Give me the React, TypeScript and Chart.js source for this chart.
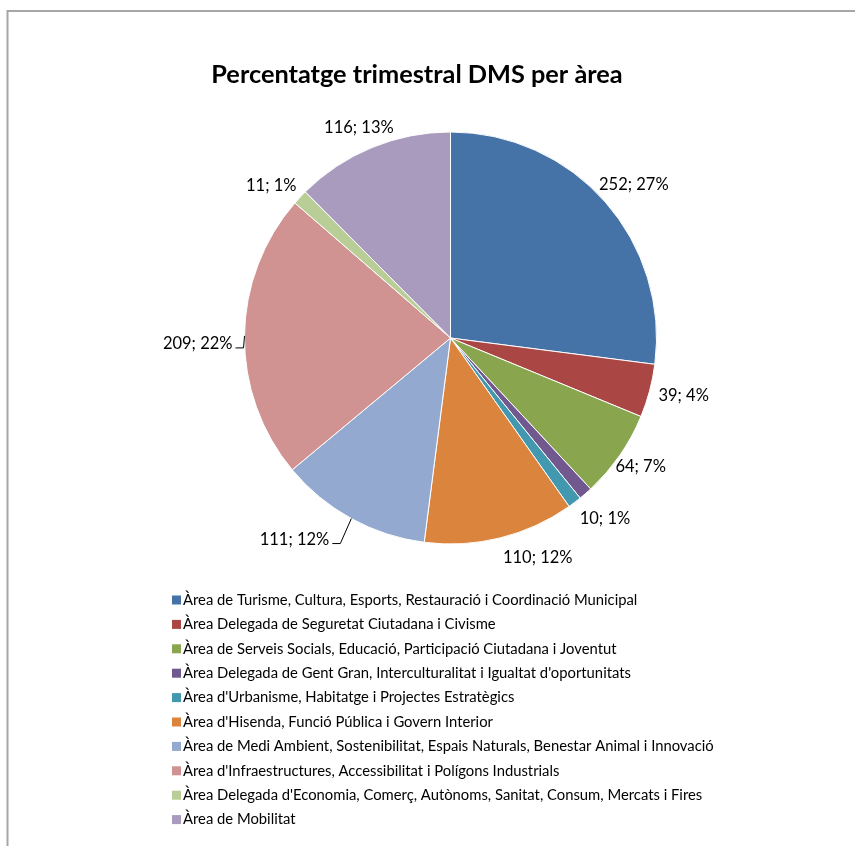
import React, { useEffect, useRef } from "react";
import { Chart, registerables } from "chart.js";

Chart.register(...registerables);

const chartTitle = "Percentatge trimestral DMS per àrea";

const categories = [
  "Àrea de Turisme, Cultura, Esports, Restauració i Coordinació Municipal",
  "Àrea Delegada de Seguretat Ciutadana i Civisme",
  "Àrea de Serveis Socials, Educació, Participació Ciutadana i Joventut",
  "Àrea Delegada de Gent Gran, Interculturalitat i Igualtat d'oportunitats",
  "Àrea d'Urbanisme, Habitatge i Projectes Estratègics",
  "Àrea d'Hisenda, Funció Pública i Govern Interior",
  "Àrea de Medi Ambient, Sostenibilitat, Espais Naturals, Benestar Animal i Innovació",
  "Àrea d'Infraestructures, Accessibilitat i Polígons Industrials",
  "Àrea Delegada d'Economia, Comerç, Autònoms, Sanitat, Consum, Mercats i Fires",
  "Àrea de Mobilitat",
];

const values = [252, 39, 64, 10, 10, 110, 111, 209, 11, 116];

const percentLabels = ["27%", "4%", "7%", "1%", "1%", "12%", "12%", "22%", "1%", "13%"];

const sliceColors = [
  "#4572A7",
  "#AA4643",
  "#89A54E",
  "#71588F",
  "#4198AF",
  "#DB843D",
  "#93A9CF",
  "#D19392",
  "#B9CD96",
  "#A99BBD",
];

const FONT = "Lato, 'Noto Sans', sans-serif";

const framePlugin = {
  id: "frame",
  beforeDraw(chart: any) {
    const ctx = chart.ctx;
    ctx.save();
    ctx.fillStyle = "#ffffff";
    ctx.fillRect(0, 0, chart.width, chart.height);
    ctx.strokeStyle = "#a6a6a6";
    ctx.lineWidth = 2;
    ctx.beginPath();
    ctx.moveTo(7.5, chart.height);
    ctx.lineTo(7.5, 11);
    ctx.lineTo(chart.width, 11);
    ctx.stroke();
    ctx.restore();
  },
  afterDraw(chart: any, _args: any, opts: any) {
    const ctx = chart.ctx;
    ctx.save();
    ctx.fillStyle = "#000000";
    ctx.font = `bold 25.3px ${FONT}`;
    ctx.textAlign = "center";
    ctx.textBaseline = "middle";
    ctx.fillText(opts.title, opts.titleX, opts.titleY);
    ctx.restore();
  },
};

const legendPlugin = {
  id: "listLegend",
  afterDraw(chart: any, _args: any, opts: any) {
    const ctx = chart.ctx;
    const labels: string[] = chart.data.labels;
    const bg: string[] = chart.data.datasets[0].backgroundColor;
    ctx.save();
    ctx.font = opts.font;
    ctx.textAlign = "left";
    ctx.textBaseline = "middle";
    labels.forEach((lab, i) => {
      const cy = opts.y + i * opts.step;
      ctx.fillStyle = bg[i];
      ctx.fillRect(opts.x, cy - opts.box / 2, opts.box, opts.box);
      ctx.fillStyle = "#000000";
      ctx.fillText(lab, opts.x + opts.box + 2, cy);
    });
    ctx.restore();
  },
};

const sliceLabelPlugin = {
  id: "sliceLabels",
  afterDatasetsDraw(chart: any, _args: any, opts: any) {
    const ctx = chart.ctx;
    const meta = chart.getDatasetMeta(0);
    const data: number[] = chart.data.datasets[0].data;
    ctx.save();
    ctx.font = opts.font;
    ctx.fillStyle = "#000000";
    ctx.strokeStyle = "#000000";
    ctx.lineWidth = 1;
    ctx.textBaseline = "middle";
    meta.data.forEach((arc: any, i: number) => {
      if (opts.hidden.includes(i)) return;
      const p = arc.getProps(["x", "y", "startAngle", "endAngle", "outerRadius"], true);
      const mid = (p.startAngle + p.endAngle) / 2;
      const c = Math.cos(mid);
      const s = Math.sin(mid);
      const text = `${data[i]}; ${opts.percents[i]}`;
      const w = ctx.measureText(text).width;
      const h = opts.height;
      const px = p.x + p.outerRadius * c;
      const py = p.y + p.outerRadius * s;
      const leader = opts.leaders[i];
      if (leader) {
        const ex = px + leader[0];
        const ey = py + leader[1];
        ctx.beginPath();
        ctx.moveTo(px, py);
        ctx.lineTo(ex, ey);
        ctx.lineTo(ex - 8, ey);
        ctx.stroke();
        ctx.textAlign = "right";
        ctx.fillText(text, ex - 11, ey - 4);
      } else {
        const shift = opts.shifts[i] || [0, 0];
        const gx = p.x + (p.outerRadius + opts.gap) * c;
        const gy = p.y + (p.outerRadius + opts.gap) * s;
        const cx = gx + (c * w) / 2 + shift[0];
        const cy = gy + (s * h) / 2 + shift[1];
        ctx.textAlign = "center";
        ctx.fillText(text, cx, cy);
      }
    });
    ctx.restore();
  },
};

export default function App() {
  const canvasRef = useRef<HTMLCanvasElement | null>(null);

  useEffect(() => {
    document.body.style.margin = "0";
    const canvas = canvasRef.current;
    if (!canvas) return;
    const chart = new Chart(canvas, {
      type: "pie",
      data: {
        labels: categories,
        datasets: [
          {
            data: values,
            backgroundColor: sliceColors,
            borderColor: "#ffffff",
            borderWidth: 1,
          },
        ],
      },
      options: {
        responsive: false,
        animation: false,
        devicePixelRatio: 1,
        layout: {
          padding: { left: 244, right: 198, top: 131.5, bottom: 301.5 },
        },
        plugins: {
          legend: { display: false },
          title: { display: false },
          tooltip: { enabled: false },
          frame: { title: chartTitle, titleX: 417, titleY: 75 },
          listLegend: { x: 172, y: 600, step: 24.4, box: 9, font: `14.8px ${FONT}` },
          sliceLabels: {
            font: `16.5px ${FONT}`,
            height: 16,
            gap: 10,
            percents: percentLabels,
            hidden: [3],
            shifts: { 0: [-5, -5], 2: [-8, 1], 4: [9, 2], 5: [27, 2], 8: [-3, 1], 9: [4, -3] },
            leaders: { 6: [-11, 25], 7: [-1, 12] },
          },
        } as any,
      },
      plugins: [framePlugin, sliceLabelPlugin, legendPlugin],
    });
    return () => chart.destroy();
  }, []);

  return (
    <div style={{ position: "relative", width: 855, height: 846 }}>
      <canvas ref={canvasRef} width={855} height={846} style={{ display: "block" }} />
    </div>
  );
}
